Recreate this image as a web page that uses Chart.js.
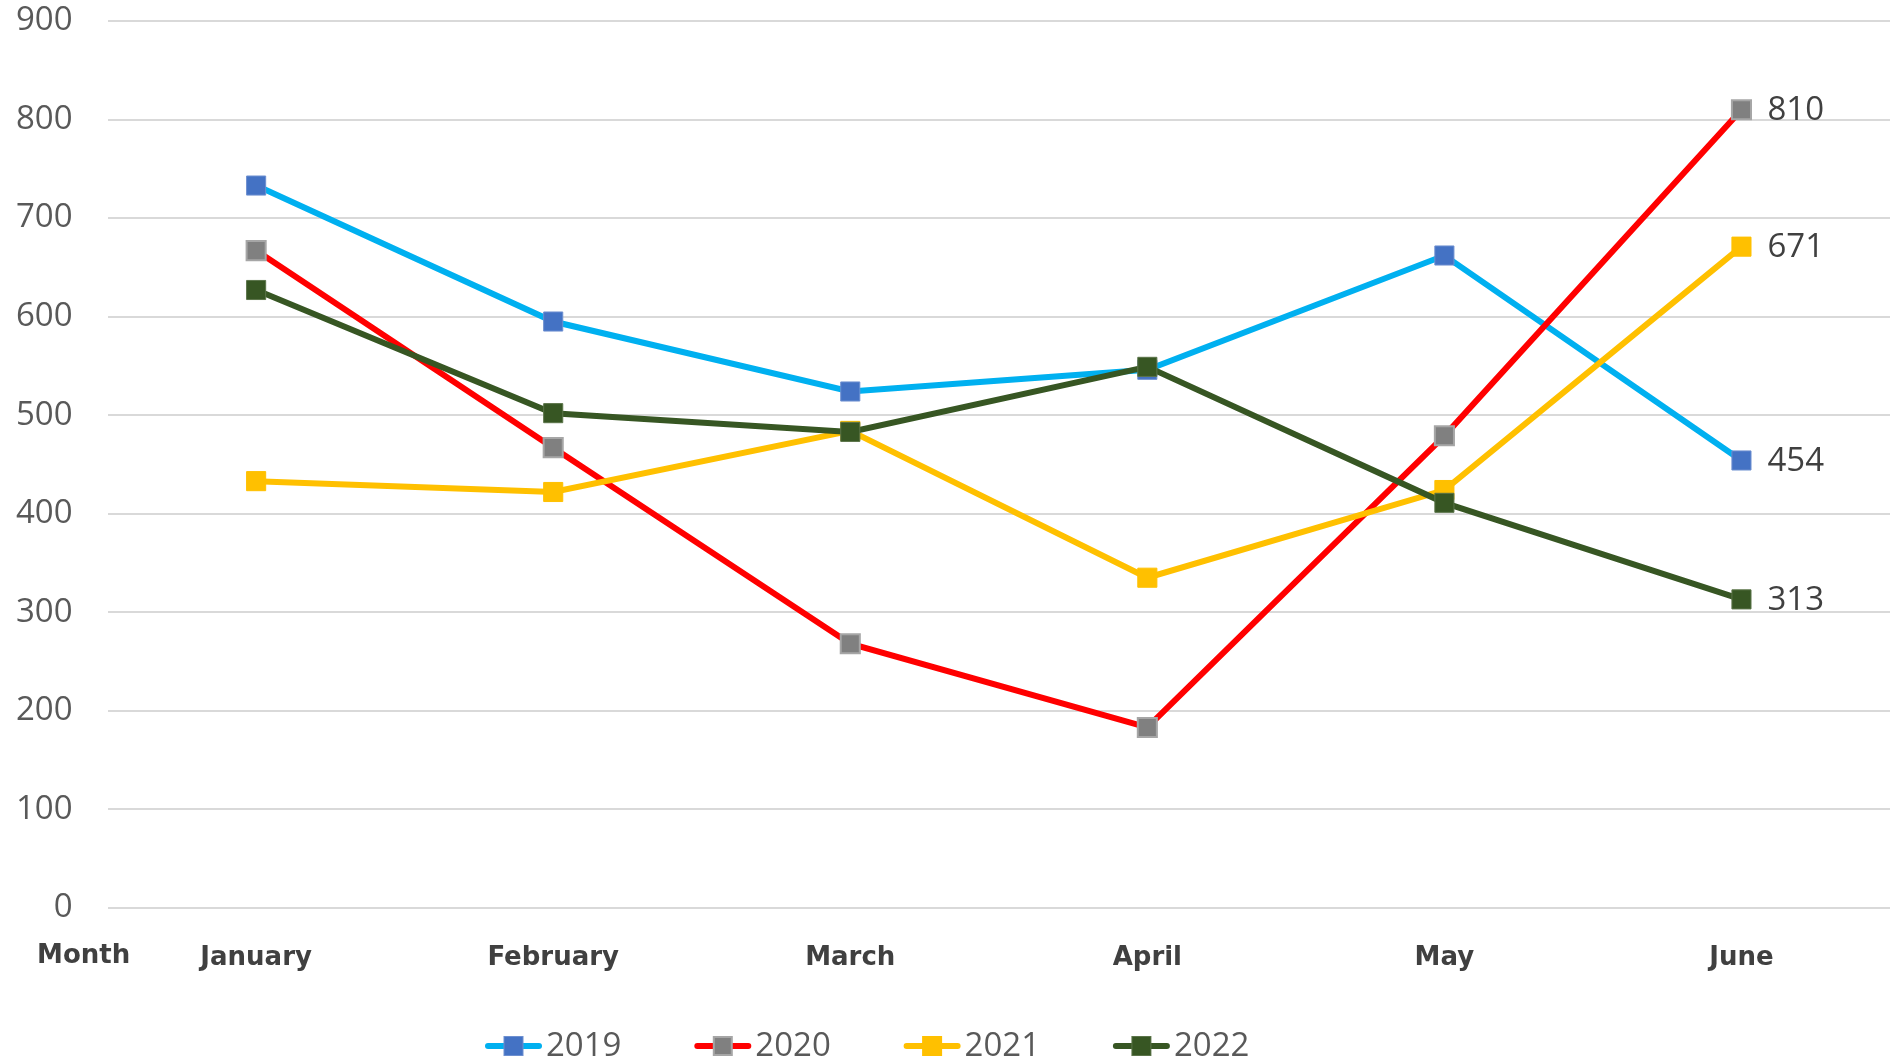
<!DOCTYPE html>
<html>
<head>
<meta charset="utf-8">
<title>Monthly values 2019-2022</title>
<script src="https://cdn.jsdelivr.net/npm/chart.js@4.4.1/dist/chart.umd.min.js"></script>
<style>
    html, body { margin: 0; padding: 0; background: #ffffff; }
    #wrap { width: 1890px; height: 1062px; }
</style>
</head>
<body>
<div id="wrap"><canvas id="monthChart" width="1890" height="1062"></canvas></div>
<script>
// chart data
const months = ['January', 'February', 'March', 'April', 'May', 'June'];
const years = ['2019', '2020', '2021', '2022'];
const values2019 = [733, 595, 524, 546, 662, 454];
const values2020 = [667, 467, 268, 183, 479, 810];
const values2021 = [433, 422, 484, 335, 424, 671];
const values2022 = [627, 502, 483, 549, 411, 313];
const yMin = 0;
const yMax = 900;
const yStep = 100;
const xTitle = 'Month';

document.addEventListener('DOMContentLoaded', function() {
    const tickFont = { family: '"Open Sans", "Liberation Sans", sans-serif', size: 33 };
    const catFont = { family: '"DejaVu Sans", sans-serif', size: 26, weight: 'bold' };

    function series(label, values, line, fill, edge, edgeWidth, order) {
        return {
            label: label,
            data: values,
            borderColor: line,
            backgroundColor: line,
            borderWidth: 6,
            tension: 0,
            pointStyle: 'rect',
            pointRadius: 13.5,
            pointHoverRadius: 13.5,
            pointBackgroundColor: fill,
            pointBorderColor: edge,
            pointBorderWidth: edgeWidth,
            markerFill: fill,
            order: order
        };
    }

    // end labels, "Month" label and the legend row
    const extras = {
        id: 'extras',
        afterDatasetsDraw(chart) {
            const ctx = chart.ctx;
            ctx.save();
            ctx.font = '33px "Open Sans", "Liberation Sans", sans-serif';
            ctx.fillStyle = '#404040';
            ctx.textAlign = 'left';
            ctx.textBaseline = 'middle';
            chart.data.datasets.forEach((ds, i) => {
                const meta = chart.getDatasetMeta(i);
                const last = meta.data[meta.data.length - 1];
                ctx.fillText(String(ds.data[ds.data.length - 1]), last.x + 26, last.y + 1);
            });

            const xs = chart.scales.x;
            ctx.font = 'bold 26px "DejaVu Sans", sans-serif';
            ctx.textAlign = 'center';
            ctx.textBaseline = 'top';
            ctx.fillText(xTitle, chart.chartArea.left - 24, xs.top + xs.options.ticks.padding);
            ctx.restore();
        },
        afterDraw(chart) {
            const ctx = chart.ctx;
            const legendLeft = 485, legendStep = 209.3, legendY = 1046;
            ctx.save();
            ctx.font = '33px "Open Sans", "Liberation Sans", sans-serif';
            ctx.textBaseline = 'middle';
            ctx.textAlign = 'left';
            chart.data.datasets.forEach((ds, i) => {
                const x = legendLeft + i * legendStep;
                ctx.strokeStyle = ds.borderColor;
                ctx.lineWidth = 6;
                ctx.lineCap = 'round';
                ctx.beginPath();
                ctx.moveTo(x + 3, legendY);
                ctx.lineTo(x + 54, legendY);
                ctx.stroke();
                ctx.fillStyle = ds.pointBorderColor;
                ctx.fillRect(x + 18.5, legendY - 10, 20, 20);
                ctx.fillStyle = ds.markerFill;
                ctx.fillRect(x + 18.5 + ds.pointBorderWidth, legendY - 10 + ds.pointBorderWidth,
                    20 - 2 * ds.pointBorderWidth, 20 - 2 * ds.pointBorderWidth);
                ctx.fillStyle = '#595959';
                ctx.fillText(ds.label, x + 61, legendY + 1);
            });
            ctx.restore();
        }
    };

    const chartCtx = document.getElementById('monthChart');
    if (chartCtx) {
        new Chart(chartCtx, {
            type: 'line',
            data: {
                labels: months,
                datasets: [
                    series(years[0], values2019, '#00b0f0', '#4472c4', '#6d8fd0', 1, 4),
                    series(years[1], values2020, '#ff0000', '#808080', '#a6a6a6', 2, 3),
                    series(years[2], values2021, '#ffc000', '#ffc000', '#ffc000', 1, 2),
                    series(years[3], values2022, '#375623', '#375623', '#5b7449', 1, 1)
                ]
            },
            options: {
                responsive: false,
                animation: false,
                layout: {
                    autoPadding: false,
                    padding: { left: 15, right: -11, top: 21, bottom: 53 }
                },
                plugins: {
                    legend: { display: false },
                    tooltip: { enabled: false }
                },
                scales: {
                    x: {
                        offset: true,
                        grid: { display: false, drawTicks: false },
                        border: { display: false },
                        ticks: {
                            padding: 35,
                            color: '#404040',
                            font: catFont,
                            maxRotation: 0
                        }
                    },
                    y: {
                        min: yMin,
                        max: yMax,
                        grid: {
                            color: '#d9d9d9',
                            lineWidth: 2,
                            drawTicks: true,
                            tickLength: 34,
                            tickColor: 'rgba(0,0,0,0)'
                        },
                        border: { display: false },
                        ticks: {
                            stepSize: yStep,
                            padding: 1,
                            color: '#595959',
                            font: tickFont
                        }
                    }
                }
            },
            plugins: [extras]
        });
    }
});
</script>
</body>
</html>
